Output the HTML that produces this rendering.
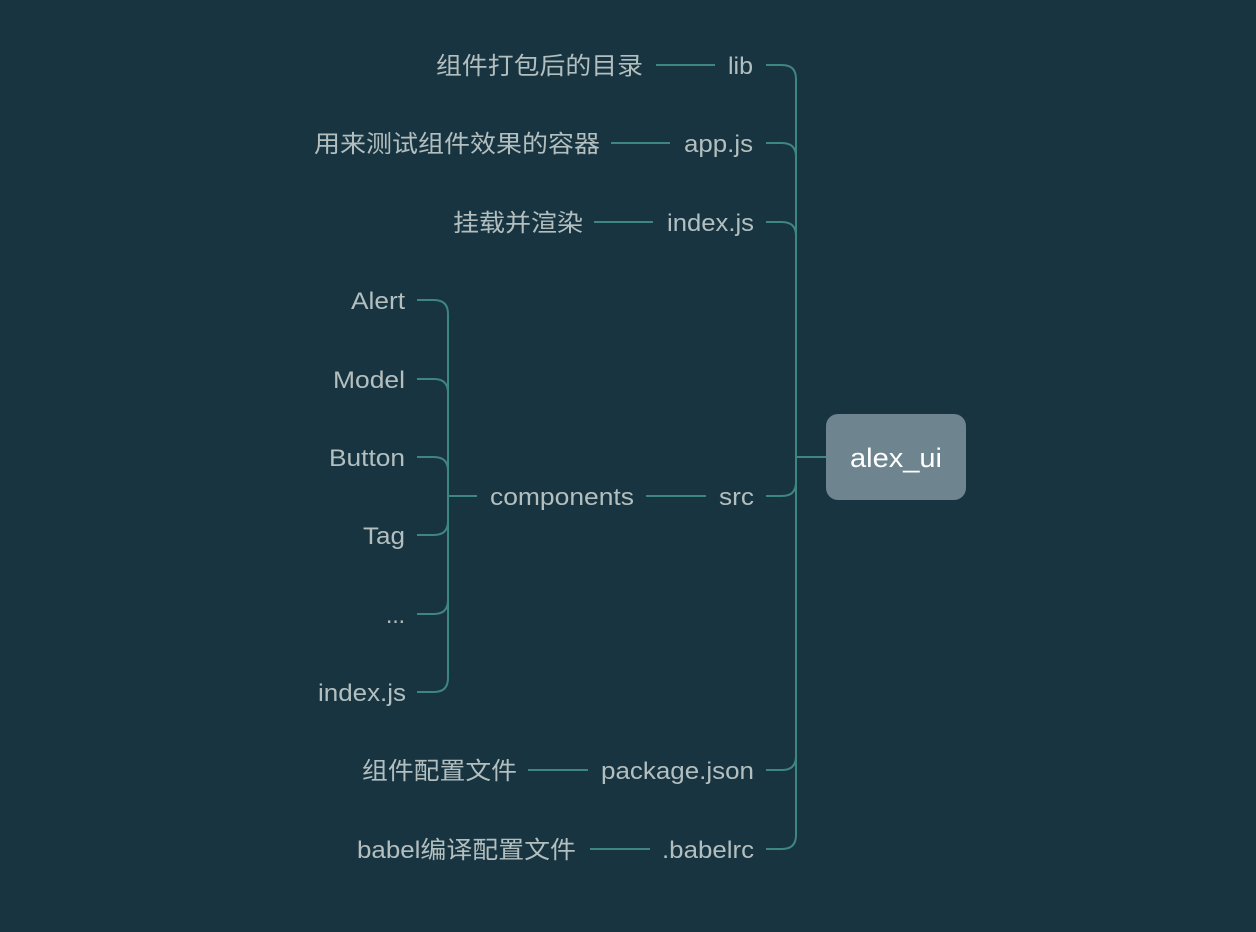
<!DOCTYPE html>
<html><head><meta charset="utf-8"><style>
html,body{margin:0;padding:0;background:#173440;}
svg{display:block}
text{font-family:"Liberation Sans","Noto Sans CJK SC",sans-serif;font-size:24px;fill:#b3bfbf;text-anchor:end}
</style></head><body>
<svg width="1256" height="932" viewBox="0 0 1256 932">
<rect width="1256" height="932" fill="#173440"/>
<g stroke="#3f8580" stroke-width="2" fill="none">
<path d="M766 65 H782 Q796 65 796 79 V835 Q796 849 782 849 H766"/>
<path d="M766 143 H782 Q796 143 796 157"/>
<path d="M766 222 H782 Q796 222 796 236"/>
<path d="M766 496 H782 Q796 496 796 482"/>
<path d="M766 770 H782 Q796 770 796 756"/>
<path d="M796 457 H826"/>
<path d="M656 65 H715"/>
<path d="M611 143 H670"/>
<path d="M594 222 H653"/>
<path d="M646 496 H706"/>
<path d="M528 770 H588"/>
<path d="M590 849 H650"/>
<path d="M449 496 H477"/>
<path d="M417 300 H434 Q448 300 448 314 V678 Q448 692 434 692 H417"/>
<path d="M417 379 H434 Q448 379 448 393"/>
<path d="M417 457 H434 Q448 457 448 471"/>
<path d="M417 535 H434 Q448 535 448 521"/>
<path d="M417 614 H434 Q448 614 448 600"/>
</g>
<rect x="826" y="414" width="140" height="86" rx="12" fill="#6e8590"/>
<text x="896" y="467" style="fill:#fff;font-size:27px;text-anchor:middle" textLength="92" lengthAdjust="spacingAndGlyphs">alex_ui</text>
<text x="753" y="74" textLength="25" lengthAdjust="spacingAndGlyphs">lib</text>
<text x="643" y="74" textLength="207" lengthAdjust="spacingAndGlyphs">组件打包后的目录</text>
<text x="753" y="152" textLength="69" lengthAdjust="spacingAndGlyphs">app.js</text>
<text x="600" y="152" textLength="286" lengthAdjust="spacingAndGlyphs">用来测试组件效果的容器</text>
<text x="754" y="231" textLength="87" lengthAdjust="spacingAndGlyphs">index.js</text>
<text x="583" y="231" textLength="130" lengthAdjust="spacingAndGlyphs">挂载并渲染</text>
<text x="754" y="505" textLength="35" lengthAdjust="spacingAndGlyphs">src</text>
<text x="634" y="505" textLength="144" lengthAdjust="spacingAndGlyphs">components</text>
<text x="405" y="309" textLength="54" lengthAdjust="spacingAndGlyphs">Alert</text>
<text x="405" y="388" textLength="72" lengthAdjust="spacingAndGlyphs">Model</text>
<text x="405" y="466" textLength="76" lengthAdjust="spacingAndGlyphs">Button</text>
<text x="405" y="544" textLength="42" lengthAdjust="spacingAndGlyphs">Tag</text>
<text x="405" y="623" textLength="19" lengthAdjust="spacingAndGlyphs">...</text>
<text x="406" y="701" textLength="88" lengthAdjust="spacingAndGlyphs">index.js</text>
<text x="754" y="779" textLength="153" lengthAdjust="spacingAndGlyphs">package.json</text>
<text x="517" y="779" textLength="155" lengthAdjust="spacingAndGlyphs">组件配置文件</text>
<text x="754" y="858" textLength="92" lengthAdjust="spacingAndGlyphs">.babelrc</text>
<text x="576" y="858" textLength="219" lengthAdjust="spacingAndGlyphs">babel编译配置文件</text>
</svg>
</body></html>
